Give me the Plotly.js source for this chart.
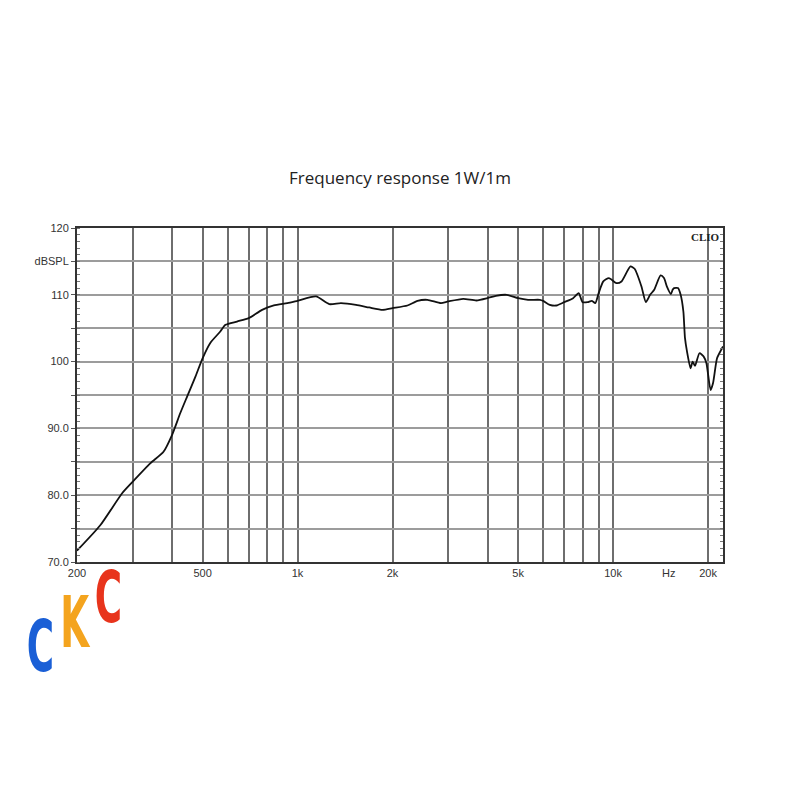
<!DOCTYPE html>
<html><head><meta charset="utf-8">
<script src="https://cdn.plot.ly/plotly-3.0.1.min.js"></script>
<style>body{margin:0;background:#fff}#chart{width:800px;height:800px}
.logo-txt{transform-box:fill-box;transform-origin:center;transform:scale(0.74,1.26)}</style>
</head><body><div id="chart"></div>
<script>
const freq = [200,237,278,300,342,376,400,425,447,475,500,529,569,591,643,700,772,841,928,1000,1144,1260,1373,1532,1688,1860,2000,2230,2400,2580,2847,3000,3350,3690,4000,4250,4600,5000,5377,5860,6000,6300,6610,7000,7470,7780,8000,8300,8570,8780,9000,9310,9700,10250,10630,11350,11700,12300,12700,13100,13500,14140,14500,14800,15250,15440,15600,16050,16370,16700,16900,17150,17600,17870,18180,18780,19370,19760,20370,20730,21350,22000,22300];
const spl = [71.7,75.5,80.3,82.0,84.8,86.5,89.0,92.3,94.8,97.8,100.5,102.8,104.5,105.5,106.0,106.5,107.75,108.4,108.75,109.1,109.75,108.6,108.75,108.5,108.1,107.75,108.0,108.4,109.1,109.25,108.75,109.0,109.4,109.15,109.5,109.85,110.0,109.5,109.25,109.25,109.1,108.5,108.4,108.9,109.5,110.25,108.9,108.9,109.1,108.75,110.25,112.0,112.5,111.75,112.0,114.25,113.9,111.25,108.9,110.0,110.75,112.9,112.5,111.25,110.1,110.75,111.0,111.0,110.0,107.5,103.5,101.5,99.0,100.0,99.35,101.25,100.75,99.75,95.75,96.75,100.5,101.75,102.25];
const xGrid = [200,300,400,500,600,700,800,900,1000,2000,3000,4000,5000,6000,7000,8000,9000,10000,20000];
const xLabels = ['200','','','500','','','','','1k','2k','','','5k','','','','','10k','20k'];
const yTicks = [70,75,80,85,90,95,100,105,110,115,120];
const yLabels = ['70.0','','80.0','','90.0','','100','','110','dBSPL','120'];
const titleText = 'Frequency response 1W/1m';

const tickFont = {family:'Liberation Sans, Arial, sans-serif', size:11, color:'#333'};
const xr = [Math.log10(200), Math.log10(22300)];
const logoFont = c => ({family:'DejaVu Sans Condensed, DejaVu Sans, sans-serif', size:56, color:c});

const data = [
 {x:freq, y:spl, type:'scatter', mode:'lines', line:{color:'#111', width:1.8, shape:'spline', smoothing:0.6}, hoverinfo:'skip', showlegend:false},
 {x:freq, y:spl, type:'scatter', mode:'lines', yaxis:'y2', line:{color:'rgba(0,0,0,0)', width:0}, hoverinfo:'skip', showlegend:false}
];
const layout = {
 width:800, height:800, paper_bgcolor:'#fff', plot_bgcolor:'#fff',
 margin:{l:77, r:77, t:228, b:238},
 title:{text:titleText, font:{family:'Open Sans, sans-serif', size:17, color:'#222'}, x:0.5, xanchor:'center', y:1-178/800, yanchor:'middle'},
 xaxis:{type:'log', range:xr, tickmode:'array', tickvals:xGrid, ticktext:xLabels, showgrid:true, gridcolor:'#6e6e6e', gridwidth:2,
   ticks:'', tickfont:tickFont, showline:true, linecolor:'#333', linewidth:2, mirror:true, zeroline:false, fixedrange:true},
 yaxis:{range:[70,120], tickmode:'array', tickvals:yTicks, ticktext:yLabels, showgrid:true, gridcolor:'#9c9c9c', gridwidth:2,
   ticks:'outside', ticklen:4, tickcolor:'#555', tickfont:tickFont, showline:true, linecolor:'#333', linewidth:2, mirror:true, zeroline:false,
   minor:{dtick:1, ticks:'inside', ticklen:3, tickcolor:'#777', showgrid:false}},
 yaxis2:{overlaying:'y', side:'right', range:[70,120], showgrid:false, showticklabels:false, ticks:'', zeroline:false, showline:false,
   minor:{dtick:1, ticks:'inside', ticklen:3, tickcolor:'#777', showgrid:false}},
 annotations:[
  {xref:'paper', yref:'paper', x:1, y:1, xanchor:'right', yanchor:'top', yshift:-1, xshift:-1, text:'<b>CLIO</b>', showarrow:false,
   font:{family:'Liberation Serif, DejaVu Serif, serif', size:11, color:'#222'}},
  {xref:'x', yref:'paper', x:Math.log10(15000), y:0, yanchor:'top', yshift:-3, text:'Hz', showarrow:false, font:tickFont},
  {xref:'paper', yref:'paper', x:(40-77)/646, y:(800-646)/334-(800-562)/334, xanchor:'center', yanchor:'middle', text:'<b>C</b>', showarrow:false, font:logoFont('#1a5fd6')},
  {xref:'paper', yref:'paper', x:(75-77)/646, y:(800-622)/334-(800-562)/334, xanchor:'center', yanchor:'middle', text:'<b>K</b>', showarrow:false, font:logoFont('#f4a41e')},
  {xref:'paper', yref:'paper', x:(108-77)/646, y:(800-597)/334-(800-562)/334, xanchor:'center', yanchor:'middle', text:'<b>C</b>', showarrow:false, font:logoFont('#e8341c')}
 ]
};
Plotly.newPlot('chart', data, layout, {staticPlot:true, displayModeBar:false}).then(gd => {
  const anns = gd.querySelectorAll('.annotation');
  anns.forEach((a, i) => { if (i >= 2) { const t = a.querySelector('text'); if (t) t.classList.add('logo-txt'); } });
});
</script></body></html>
